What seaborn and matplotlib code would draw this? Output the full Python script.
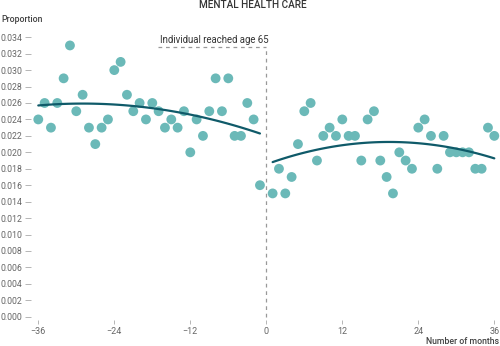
import matplotlib
matplotlib.use("Agg")
import matplotlib.pyplot as plt
import seaborn as sns
import numpy as np
import pandas as pd

months_before = list(range(-36, 0))
prop_before = [0.024, 0.026, 0.023, 0.026, 0.029, 0.033, 0.025, 0.027, 0.023, 0.021,
               0.023, 0.024, 0.030, 0.031, 0.027, 0.025, 0.026, 0.024, 0.026, 0.025,
               0.023, 0.024, 0.023, 0.025, 0.020, 0.024, 0.022, 0.025, 0.029, 0.025,
               0.029, 0.022, 0.022, 0.026, 0.024, 0.016]
months_after = list(range(1, 37))
prop_after = [0.015, 0.018, 0.015, 0.017, 0.021, 0.025, 0.026, 0.019, 0.022, 0.023,
              0.022, 0.024, 0.022, 0.022, 0.019, 0.024, 0.025, 0.019, 0.017, 0.015,
              0.020, 0.019, 0.018, 0.023, 0.024, 0.022, 0.018, 0.022, 0.020, 0.020,
              0.020, 0.020, 0.018, 0.018, 0.023, 0.022]
x_ticks = [-36, -24, -12, 0, 12, 24, 36]
y_ticks = [round(0.002 * i, 3) for i in range(18)]

title = "MENTAL HEALTH CARE"
annotation = "Individual reached age 65"

sns.set_style("white")
plt.rcParams['font.family'] = ['Roboto', 'DejaVu Sans']

dot_color = "#6bb9b8"
line_color = "#0f5a69"
text_color = "#444444"
tick_color = "#666666"

W, H = 500, 346
fig = plt.figure(figsize=(W / 100, H / 100), dpi=100)
left_px, right_px, top_px, bottom_px = 31, 500, 30, 320
ax = fig.add_axes([left_px / W, 1 - bottom_px / H, (right_px - left_px) / W, (bottom_px - top_px) / H])

df_b = pd.DataFrame({"month": months_before, "prop": prop_before})
df_a = pd.DataFrame({"month": months_after, "prop": prop_after})

for df in (df_b, df_a):
    sns.scatterplot(data=df, x="month", y="prop", ax=ax, color=dot_color, s=50,
                    edgecolor="none", zorder=2)
    sns.regplot(data=df, x="month", y="prop", ax=ax, order=2, ci=None, scatter=False,
                truncate=True, line_kws=dict(color=line_color, lw=1.6, zorder=3))

ax.set_xlim(-37.15, 36.9)
ax.set_ylim(-0.0004, 0.03488)

# dashed reference line
ax.plot([0, 0], [0, 0.0328], ls=(0, (3, 3)), color="#999999", lw=0.9, zorder=1)
ax.plot([-17.1, 0], [0.0328, 0.0328], ls=(0, (3, 3)), color="#999999", lw=0.9, zorder=1)
ax.text(-16.8, 0.0331, annotation, fontsize=6.9, color="#333333", ha="left", va="bottom")

for s in ax.spines.values():
    s.set_visible(False)
ax.set_xticks(x_ticks)
ax.set_xticklabels([str(t).replace("-", "\u2212") for t in x_ticks])
ax.set_yticks(y_ticks)
ax.set_yticklabels([f"{t:.3f}" for t in y_ticks])
ax.tick_params(axis="y", length=4, width=0.6, color="#aaaaaa", pad=2,
               labelsize=6.3, labelcolor=tick_color, left=True)
ax.tick_params(axis="x", length=3, width=0.6, color="#aaaaaa", pad=2,
               labelsize=6.5, labelcolor=tick_color, bottom=True)
ax.set_xlabel("")
ax.set_ylabel("")
ax.grid(False)

fig.text(0.002, 1 - 20 / H, "Proportion", fontsize=6.3, color=text_color, fontweight="medium",
         ha="left", va="center")
fig.text(1 - 1 / W, 1 - 342 / H, "Number of months", fontsize=6.3, color=text_color,
         fontweight="medium", ha="right", va="center")
fig.text(0.506, 1 - 5 / H, title, fontsize=7.2, color="#333333", fontweight="medium",
         ha="center", va="center")

fig.savefig("out.png", dpi=100)
